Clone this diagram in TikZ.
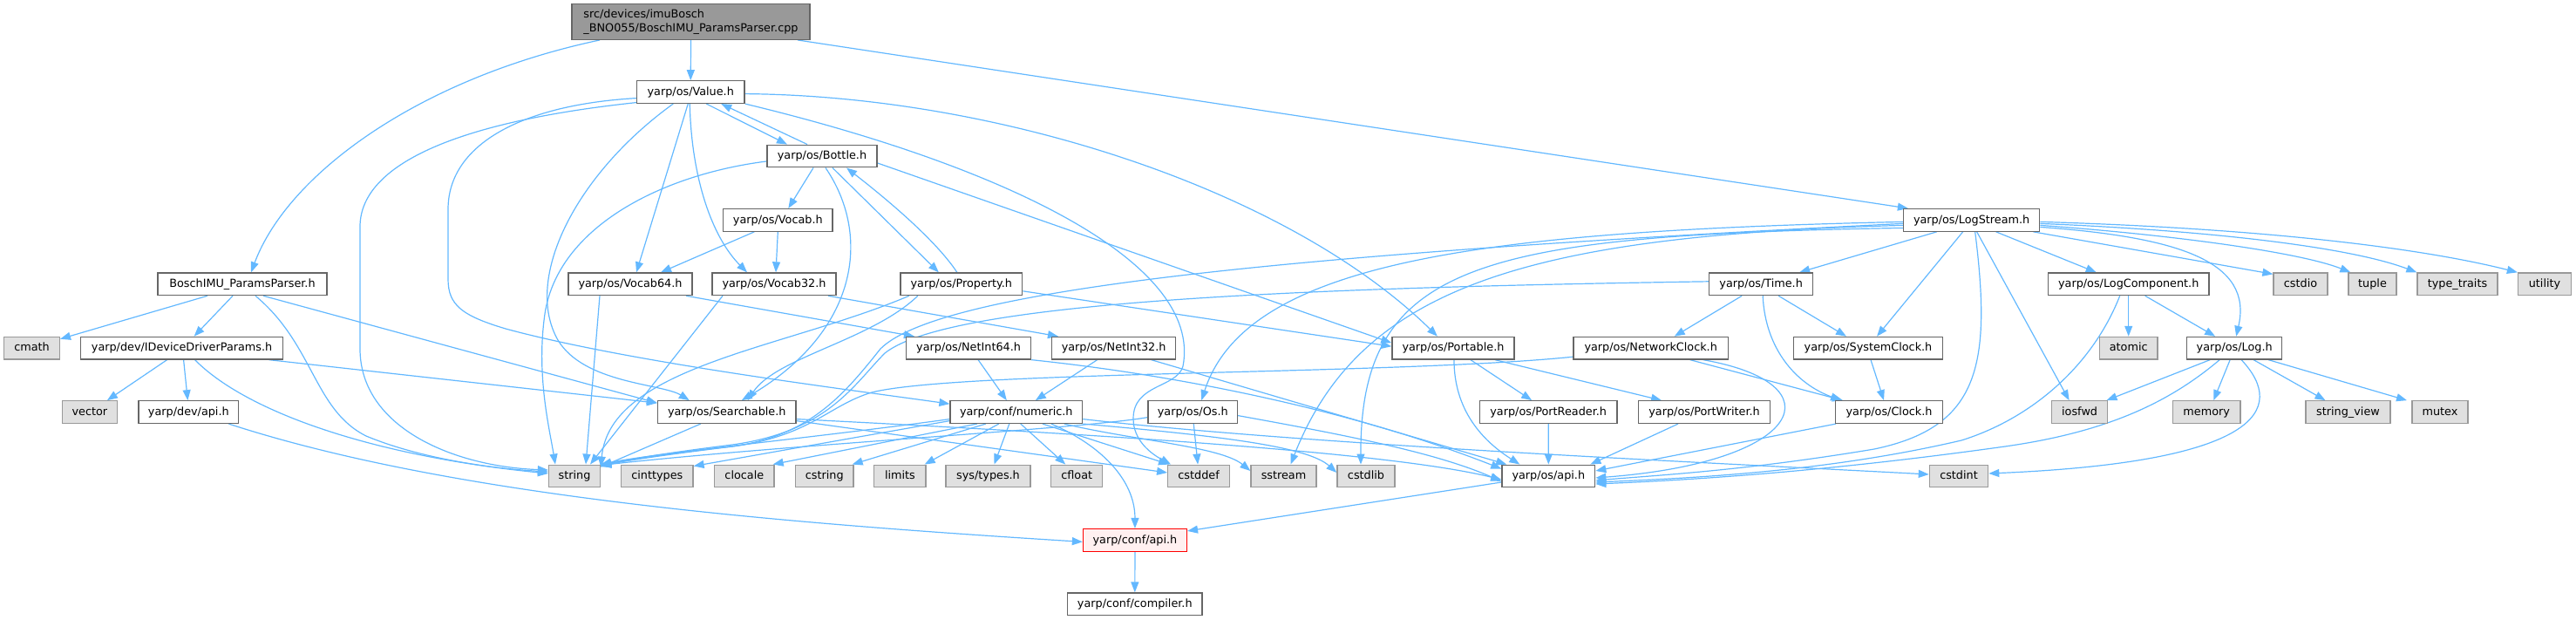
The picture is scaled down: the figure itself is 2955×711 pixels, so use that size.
\documentclass[tikz,border=0pt]{standalone}
\usepackage{fontspec}
\setmainfont{DejaVu Sans}
\usetikzlibrary{arrows.meta}
\definecolor{edgec}{HTML}{63B8FF}
\definecolor{bdc}{HTML}{666666}
\definecolor{sysbd}{HTML}{999999}
\definecolor{sysfill}{HTML}{E0E0E0}
\definecolor{rootfill}{HTML}{999999}
\definecolor{redfill}{HTML}{FFF0F0}
\pgfdeclarelayer{bg}
\pgfsetlayers{bg,main}
\begin{document}
\begin{tikzpicture}[x=1pt,y=1pt,
  base/.style={draw=bdc, fill=white, line width=1.3pt, inner sep=0pt, font=\fontsize{12.8pt}{15.6pt}\selectfont},
  box/.style={base, minimum height=25.6pt, text height=9.5pt, text depth=2.1pt},
  sys/.style={box, draw=sysbd, fill=sysfill},
  root/.style={base, fill=rootfill, minimum height=40.6pt, align=left},
  trunc/.style={box, draw=red, fill=redfill},
  e/.style={draw=edgec, line width=1.2pt, -{Triangle[length=12pt,width=9pt]}},
]
\useasboundingbox (0,0) rectangle (2955,-711);
% ---------------- nodes ----------------
\node[root, minimum width=273pt] (src) at (792.5,-25) {src/devices/imuBosch\\\_BNO055/BoschIMU\_ParamsParser.cpp};
\node[box, minimum width=123.5pt] (value) at (792.25,-105.6) {yarp/os/Value.h};
\node[box, minimum width=126pt] (bottle) at (943,-179) {yarp/os/Bottle.h};
\node[box, minimum width=156.3pt] (logstream) at (2261.65,-252.4) {yarp/os/LogStream.h};
\node[box, minimum width=125.4pt] (vocab) at (892.3,-252.4) {yarp/os/Vocab.h};
\node[box, minimum width=194pt] (bosch) at (278,-325.8) {BoschIMU\_ParamsParser.h};
\node[box, minimum width=142pt] (vocab64) at (723,-325.8) {yarp/os/Vocab64.h};
\node[box, minimum width=142pt] (vocab32) at (888,-325.8) {yarp/os/Vocab32.h};
\node[box, minimum width=139.7pt] (property) at (1102.85,-325.8) {yarp/os/Property.h};
\node[box, minimum width=118.9pt] (time) at (2020.15,-325.8) {yarp/os/Time.h};
\node[box, minimum width=184.4pt] (logcomp) at (2441.7,-325.8) {yarp/os/LogComponent.h};
\node[sys, minimum width=62pt] (cstdio) at (2639,-325.8) {cstdio};
\node[sys, minimum width=55pt] (tuple) at (2721.5,-325.8) {tuple};
\node[sys, minimum width=92pt] (typetraits) at (2819,-325.8) {type\_traits};
\node[sys, minimum width=61pt] (utility) at (2919,-325.8) {utility};
\node[sys, minimum width=63.7pt] (cmath) at (36.55,-399.2) {cmath};
\node[box, minimum width=232.2pt] (idevice) at (208.6,-399.2) {yarp/dev/IDeviceDriverParams.h};
\node[box, minimum width=143pt] (netint64) at (1111.1,-399.2) {yarp/os/NetInt64.h};
\node[box, minimum width=142.1pt] (netint32) at (1277.65,-399.2) {yarp/os/NetInt32.h};
\node[box, minimum width=140.1pt] (portable) at (1666.95,-399.2) {yarp/os/Portable.h};
\node[box, minimum width=177.4pt] (networkclock) at (1893.7,-399.2) {yarp/os/NetworkClock.h};
\node[box, minimum width=171pt] (systemclock) at (2143,-399.2) {yarp/os/SystemClock.h};
\node[sys, minimum width=66.4pt] (atomic) at (2441.7,-399.2) {atomic};
\node[box, minimum width=109.3pt] (log) at (2563.15,-399.2) {yarp/os/Log.h};
\node[sys, minimum width=63.2pt] (vector) at (102.9,-472.6) {vector};
\node[box, minimum width=114.7pt] (devapi) at (216.35,-472.6) {yarp/dev/api.h};
\node[box, minimum width=158.5pt] (searchable) at (833.75,-472.6) {yarp/os/Searchable.h};
\node[box, minimum width=151.6pt] (numeric) at (1165.8,-472.6) {yarp/conf/numeric.h};
\node[box, minimum width=102.5pt] (os) at (1368.25,-472.6) {yarp/os/Os.h};
\node[box, minimum width=157.6pt] (portreader) at (1776.2,-472.6) {yarp/os/PortReader.h};
\node[box, minimum width=151.1pt] (portwriter) at (1955.05,-472.6) {yarp/os/PortWriter.h};
\node[box, minimum width=122.8pt] (clock) at (2167,-472.6) {yarp/os/Clock.h};
\node[sys, minimum width=64.4pt] (iosfwd) at (2385.6,-472.6) {iosfwd};
\node[sys, minimum width=77.6pt] (memory) at (2531.2,-472.6) {memory};
\node[sys, minimum width=97pt] (stringview) at (2693.5,-472.6) {string\_view};
\node[sys, minimum width=64pt] (mutex) at (2799,-472.6) {mutex};
\node[sys, minimum width=59pt] (string) at (659,-546) {string};
\node[sys, minimum width=82.4pt] (cinttypes) at (753.8,-546) {cinttypes};
\node[sys, minimum width=68.3pt] (clocale) at (853.85,-546) {clocale};
\node[sys, minimum width=66.4pt] (cstring) at (945.8,-546) {cstring};
\node[sys, minimum width=59.2pt] (limits) at (1032.4,-546) {limits};
\node[sys, minimum width=97pt] (systypes) at (1133.5,-546) {sys/types.h};
\node[sys, minimum width=59pt] (cfloat) at (1235.2,-546) {cfloat};
\node[sys, minimum width=70.8pt] (cstddef) at (1375.1,-546) {cstddef};
\node[sys, minimum width=75pt] (sstream) at (1472.5,-546) {sstream};
\node[sys, minimum width=66pt] (cstdlib) at (1567,-546) {cstdlib};
\node[box, minimum width=106.8pt] (osapi) at (1776.3,-546) {yarp/os/api.h};
\node[sys, minimum width=67.3pt] (cstdint) at (2247,-546) {cstdint};
\node[trunc, minimum width=118.9pt] (confapi) at (1301.95,-619.4) {yarp/conf/api.h};
\node[box, minimum width=154.4pt] (compiler) at (1301.8,-692.8) {yarp/conf/compiler.h};
% ---------------- edges ----------------
\begin{pgfonlayer}{bg}
% root file
\draw[e] ([xshift=-104.5pt]src.south) .. controls (480,-90) and (330,-200) .. ([xshift=10pt]bosch.north);
\draw[e] (src.south) -- (value.north);
\draw[e] ([xshift=122.5pt]src.south) -- ([xshift=6pt]logstream.north west);
% Value.h
\draw[e] ([xshift=18pt]value.south) -- ([xshift=-40pt]bottle.north);
\draw[e] ([xshift=-3pt]value.south) -- ([xshift=7pt]vocab64.north);
\draw[e] ([xshift=-1pt]value.south) .. controls (793,-200) and (815,-270) .. ([xshift=-31pt]vocab32.north);
\draw[e] ([yshift=-12pt]value.west) .. controls (520,-140) and (413,-190) .. (413,-260) -- (413,-400) .. controls (413,-490) and (520,-535) .. ([yshift=7pt]string.west);
\draw[e] ([yshift=-7pt]value.west) .. controls (600,-120) and (514,-165) .. (514,-240) -- (514,-320) .. controls (514,-350) and (530,-362) .. (580,-377) .. controls (720,-415) and (960,-445) .. ([yshift=-4pt]numeric.north west);
\draw[e] ([xshift=-20pt]value.south) .. controls (660,-200) and (600,-320) .. (640,-390) .. controls (670,-440) and (760,-440) .. ([xshift=-43pt]searchable.north);
\draw[e] ([yshift=-2pt]value.east) .. controls (1150,-110) and (1480,-220) .. ([xshift=-18pt]portable.north);
\draw[e] (value.south east) .. controls (1150,-190) and (1380,-300) .. (1357,-420) .. controls (1350,-445) and (1300,-440) .. (1300,-480) .. controls (1300,-505) and (1320,-520) .. ([xshift=-32pt]cstddef.north);
% Bottle.h
\draw[e] ([xshift=-17pt]bottle.north) -- ([xshift=35pt]value.south);
\draw[e] ([xshift=-10pt]bottle.south) -- ([xshift=12pt]vocab.north);
\draw[e] ([xshift=4pt]bottle.south) .. controls (1000,-270) and (985,-380) .. ([xshift=17pt]searchable.north);
\draw[e] ([xshift=12pt]bottle.south) -- ([xshift=-26pt]property.north);
\draw[e] ([yshift=-8pt]bottle.east) -- ([yshift=6pt]portable.west);
\draw[e] ([yshift=-6pt]bottle.west) .. controls (760,-200) and (640,-260) .. (625,-360) .. controls (615,-430) and (630,-490) .. ([xshift=-22pt]string.north);
% Property.h
\draw[e] ([xshift=-5pt]property.north) .. controls (1070,-270) and (1000,-215) .. ([xshift=28pt]bottle.south);
\draw[e] ([xshift=-50pt]property.south) .. controls (1000,-390) and (890,-410) .. ([xshift=24pt]searchable.north);
\draw[e] ([xshift=-60pt]property.south) .. controls (900,-400) and (700,-420) .. ([yshift=-3pt]string.north east);
\draw[e] ([yshift=-8pt]property.east) -- ([yshift=2pt]portable.west);
% BoschIMU_ParamsParser.h
\draw[e] ([xshift=-40pt]bosch.south) -- ([yshift=-3pt]cmath.north east);
\draw[e] ([xshift=-11pt]bosch.south) -- ([xshift=14pt]idevice.north);
\draw[e] ([xshift=15pt]bosch.south) .. controls (360,-395) and (360,-470) .. (420,-500) .. controls (480,-525) and (560,-537) .. ([yshift=5pt]string.west);
\draw[e] ([xshift=24pt]bosch.south) -- ([yshift=-3pt]searchable.north west);
% IDeviceDriverParams.h
\draw[e] ([xshift=-17pt]idevice.south) -- ([xshift=20pt]vector.north);
\draw[e] ([xshift=2pt]idevice.south) -- ([xshift=-1pt]devapi.north);
\draw[e] ([xshift=15pt]idevice.south) .. controls (280,-470) and (420,-522) .. ([yshift=3pt]string.west);
\draw[e] ([xshift=100pt]idevice.south) -- ([yshift=-3pt]searchable.north west);
\draw[e] ([xshift=46pt]devapi.south) .. controls (520,-570) and (900,-600) .. ([yshift=-2pt]confapi.west);
% Vocab
\draw[e] ([xshift=-27pt]vocab.south) -- ([xshift=35pt]vocab64.north);
\draw[e] (vocab.south) -- ([xshift=2pt]vocab32.north);
\draw[e] ([xshift=64pt]vocab64.south) -- ([xshift=10pt]netint64.north west);
\draw[e] ([xshift=-35pt]vocab64.south) -- ([xshift=13pt]string.north);
\draw[e] ([xshift=62pt]vocab32.south) -- ([xshift=8pt]netint32.north west);
\draw[e] ([xshift=-59pt]vocab32.south) -- ([xshift=18pt]string.north);
% NetInt
\draw[e] ([xshift=11pt]netint64.south) -- ([xshift=-11pt]numeric.north);
\draw[e] ([xshift=-19pt]netint32.south) -- ([xshift=22pt]numeric.north);
\draw[e] (netint64.south east) .. controls (1350,-430) and (1550,-470) .. ([yshift=-5pt]osapi.north west);
\draw[e] ([xshift=43pt]netint32.south) -- ([xshift=6pt]osapi.north west);
% numeric.h
\draw[e] ([yshift=-10pt]numeric.west) -- ([yshift=-2pt]cinttypes.north east);
\draw[e] ([xshift=-45pt]numeric.south) -- ([xshift=-2pt]clocale.north east);
\draw[e] ([xshift=-35pt]numeric.south) -- ([xshift=-2pt]cstring.north east);
\draw[e] ([xshift=-20pt]numeric.south) -- ([xshift=-2pt]limits.north east);
\draw[e] ([xshift=-8pt]numeric.south) -- ([xshift=7pt]systypes.north);
\draw[e] ([xshift=5pt]numeric.south) -- ([xshift=-13pt]cfloat.north);
\draw[e] ([xshift=30pt]numeric.south) -- ([xshift=2pt]cstddef.north west);
\draw[e] ([xshift=40pt]numeric.south) .. controls (1262,-510) and (1302,-550) .. (confapi.north);
\draw[e] ([xshift=55pt]numeric.south) .. controls (1300,-505) and (1400,-512) .. ([yshift=6pt]sstream.west);
\draw[e] (numeric.south east) .. controls (1400,-500) and (1500,-512) .. ([yshift=4pt]cstdlib.west);
\draw[e] ([yshift=-8pt]numeric.east) .. controls (1500,-510) and (1950,-530) .. ([yshift=2pt]cstdint.west);
\draw[e] ([yshift=-8pt]numeric.west) .. controls (950,-500) and (750,-520) .. (string.north east);
% Searchable.h
\draw[e] ([xshift=-30pt]searchable.south) -- ([yshift=-3pt]string.north east);
\draw[e] ([yshift=-8pt]searchable.east) .. controls (1300,-500) and (1600,-520) .. ([yshift=-4pt]osapi.west);
\draw[e] ([yshift=-10pt]searchable.east) -- ([yshift=4pt]cstddef.west);
% Os.h
\draw[e] ([xshift=1pt]os.south) -- ([xshift=-1pt]cstddef.north);
\draw[e] ([yshift=-4pt]os.east) .. controls (1550,-500) and (1650,-520) .. ([yshift=-6pt]osapi.west);
\draw[e] ([yshift=-6pt]os.west) .. controls (1240,-492) and (900,-510) .. ([yshift=-1pt]string.north east);
% Portable.h
\draw[e] ([xshift=1pt]portable.south) .. controls (1668,-470) and (1700,-505) .. ([xshift=-33pt]osapi.north);
\draw[e] ([xshift=20pt]portable.south) -- ([xshift=-19pt]portreader.north);
\draw[e] ([xshift=48pt]portable.south) -- ([xshift=-49pt]portwriter.north);
\draw[e] (portreader.south) -- (osapi.north);
\draw[e] ([xshift=-30pt]portwriter.south) -- ([xshift=-6pt]osapi.north east);
% NetworkClock.h
\draw[e] ([xshift=45pt]networkclock.south) -- ([xshift=-53pt]clock.north);
\draw[e] ([xshift=60pt]networkclock.south) .. controls (2110,-440) and (2070,-530) .. ([yshift=-2pt]osapi.east);
\draw[e] ([yshift=-10pt]networkclock.west) .. controls (1600,-430) and (1100,-425) .. (1000,-450) .. controls (950,-465) and (930,-500) .. (840,-512) .. controls (760,-522) and (720,-528) .. ([yshift=-2pt]string.north east);
% Time.h
\draw[e] ([xshift=-22pt]time.south) -- ([xshift=27pt]networkclock.north);
\draw[e] ([xshift=20pt]time.south) -- ([xshift=-25pt]systemclock.north);
\draw[e] ([xshift=2pt]time.south) .. controls (2025,-400) and (2060,-440) .. ([xshift=-55pt]clock.north);
\draw[e] ([yshift=3pt]time.west) .. controls (1500,-330) and (1090,-345) .. (1015,-405) .. controls (980,-440) and (950,-495) .. (840,-510) .. controls (760,-520) and (720,-527) .. ([yshift=-1pt]string.north east);
% LogStream.h
\draw[e] ([xshift=-40pt]logstream.south) -- ([xshift=44pt]time.north);
\draw[e] ([xshift=-10pt]logstream.south) -- ([xshift=10pt]systemclock.north);
\draw[e] ([xshift=4pt]logstream.south) .. controls (2285,-420) and (2270,-490) .. (2150,-515) .. controls (2000,-540) and (1900,-545) .. ([yshift=-5pt]osapi.east);
\draw[e] ([xshift=6pt]logstream.south) -- ([xshift=-12pt]iosfwd.north);
\draw[e] ([xshift=28pt]logstream.south) -- ([xshift=-37pt]logcomp.north);
\draw[e] ([yshift=-8pt]logstream.east) .. controls (2500,-272) and (2585,-300) .. ([xshift=2pt]log.north);
\draw[e] ([xshift=-8pt]logstream.south east) -- ([yshift=-2pt]cstdio.north west);
\draw[e] ([yshift=-6pt]logstream.east) .. controls (2500,-270) and (2640,-290) .. ([xshift=3pt]tuple.north west);
\draw[e] ([yshift=-4pt]logstream.east) .. controls (2550,-265) and (2700,-285) .. (typetraits.north west);
\draw[e] ([yshift=-2pt]logstream.east) .. controls (2600,-262) and (2780,-285) .. (utility.north west);
\draw[e] ([yshift=-2pt]logstream.west) .. controls (1700,-265) and (1430,-300) .. ([xshift=10pt]os.north);
\draw[e] ([yshift=-6pt]logstream.west) .. controls (1750,-270) and (1560,-330) .. ([xshift=8pt]sstream.north);
\draw[e] ([yshift=-9pt]logstream.west) .. controls (1700,-270) and (1560,-300) .. ([xshift=-6pt]cstdlib.north);
\draw[e] ([yshift=-4pt]logstream.west) .. controls (1500,-290) and (1080,-330) .. (1010,-400) .. controls (970,-450) and (930,-500) .. (840,-512) .. controls (760,-521) and (720,-527) .. ([yshift=-2pt]string.north east);
% LogComponent.h
\draw[e] (logcomp.south) -- (atomic.north);
\draw[e] ([xshift=19pt]logcomp.south) -- ([xshift=-22pt]log.north);
\draw[e] ([xshift=-10pt]logcomp.south) .. controls (2400,-420) and (2330,-480) .. (2250,-505) .. controls (2100,-540) and (1950,-548) .. ([yshift=-7pt]osapi.east);
% Log.h
\draw[e] ([xshift=-28pt]log.south) -- ([xshift=-2pt]iosfwd.north east);
\draw[e] ([xshift=-17pt]log.south) .. controls (2490,-460) and (2420,-495) .. (2300,-512) .. controls (2100,-540) and (1950,-550) .. ([yshift=-9pt]osapi.east);
\draw[e] ([xshift=-5pt]log.south) -- ([xshift=8pt]memory.north);
\draw[e] ([xshift=8pt]log.south) .. controls (2625,-470) and (2590,-530) .. ([yshift=3pt]cstdint.east);
\draw[e] ([xshift=22pt]log.south) -- ([xshift=-26pt]stringview.north);
\draw[e] ([xshift=39pt]log.south) -- ([xshift=-38pt]mutex.north);
% clocks
\draw[e] ([xshift=3pt]systemclock.south) -- ([xshift=-6pt]clock.north);
\draw[e] ([xshift=-61pt]clock.south) -- ([yshift=6pt]osapi.east);
% api
\draw[e] ([yshift=-7pt]osapi.west) -- ([yshift=-3pt]confapi.north east);
\draw[e] (confapi.south) -- (compiler.north);
\end{pgfonlayer}
\end{tikzpicture}
\end{document}
